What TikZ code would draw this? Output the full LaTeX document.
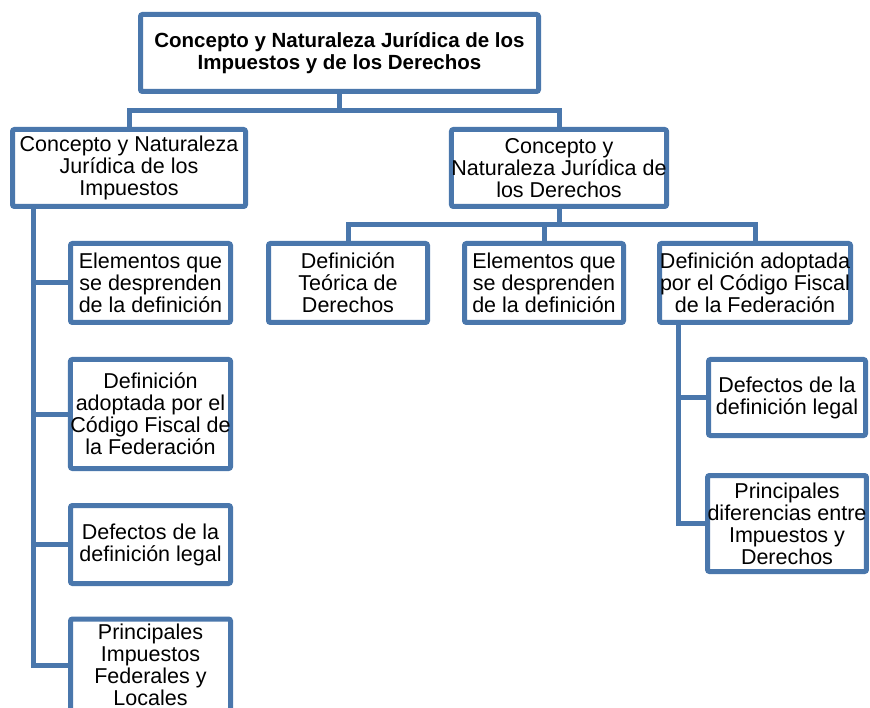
\documentclass[tikz,border=0pt]{standalone}
\usepackage{fontspec}
\setmainfont{Liberation Sans}
\usetikzlibrary{positioning}
\definecolor{steel}{RGB}{74,119,172}
\colorlet{penColor}{steel}
\tikzset{
  box/.style={draw=penColor,line width=5pt,rounded corners=2pt,fill=white,
    align=center,inner sep=0pt,font=\fontsize{21.5}{22}\selectfont},
  link/.style={penColor,line width=5pt},
}

\begin{document}
\begin{tikzpicture}[x=1pt,y=-1pt]
\useasboundingbox (0,0) rectangle (870,708);
% top level
\node[box,minimum width=398,minimum height=77,font=\bfseries\fontsize{20.5}{22}\selectfont] (top) at (339.5,53)
  {Concepto y Naturaleza Jurídica de los\\Impuestos y de los Derechos};
\node[box,minimum width=233,minimum height=77] (imp) at (129,168)
  {Concepto y Naturaleza\\Jurídica de los\\Impuestos};
\node[box,minimum width=213,minimum height=77] (der) at (559,168)
  {Concepto y\\Naturaleza Jurídica de\\los Derechos};
% impuestos
\node[box,minimum width=160,minimum height=79] (imp1) at (150.5,283)
  {Elementos que\\se desprenden\\de la definición};
\node[box,minimum width=160,minimum height=109] (imp2) at (150.5,414)
  {Definición\\adoptada por el\\Código Fiscal de\\la Federación};
\node[box,minimum width=160,minimum height=78] (imp3) at (150.5,544.5)
  {Defectos de la\\definición legal};
\node[box,minimum width=160,minimum height=92] (imp4) at (150.5,665)
  {Principales\\Impuestos\\Federales y\\Locales};
% derechos
\node[box,minimum width=159,minimum height=79] (der1) at (348,283)
  {Definición\\Teórica de\\Derechos};
\node[box,minimum width=159,minimum height=79] (der2) at (544,283)
  {Elementos que\\se desprenden\\de la definición};
\node[box,minimum width=191,minimum height=79] (der3) at (755,283)
  {Definición adoptada\\por el Código Fiscal\\de la Federación};
\node[box,minimum width=157,minimum height=76] (der3a) at (787,397.5)
  {Defectos de la\\definición legal};
\node[box,minimum width=157,minimum height=96] (der3b) at (787,523.5)
  {Principales\\diferencias entre\\Impuestos y\\Derechos};

\draw[link] (top.south) -- ++(0,17) -| (imp.north);
\draw[link] (top.south) -- ++(0,17) -| (der.north);
\foreach \n in {imp1,imp2,imp3,imp4}
  \draw[link] (imp.south west) ++(23.5,0) |- (\n.west);
\foreach \n in {der1,der2,der3}
  \draw[link] (der.south) -- ++(0,16) -| (\n.north);
\foreach \n in {der3a,der3b}
  \draw[link] (der3.south west) ++(21,0) |- (\n.west);
\end{tikzpicture}
\end{document}
